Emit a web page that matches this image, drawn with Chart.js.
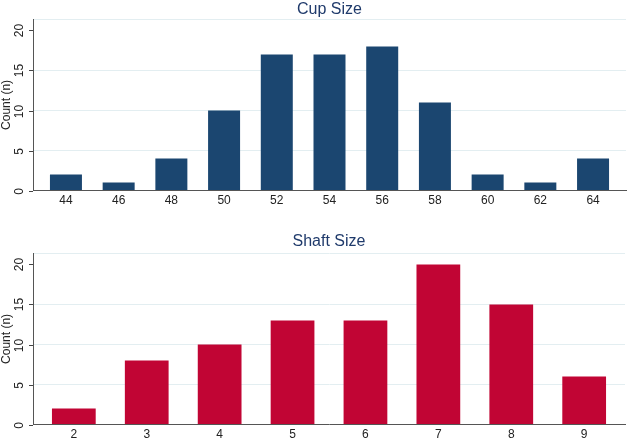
<!DOCTYPE html>
<html>
<head>
<meta charset="utf-8">
<script src="https://cdn.jsdelivr.net/npm/chart.js@4.4.1/dist/chart.umd.min.js"></script>
<style>
  body { margin: 0; background: #fff; overflow: hidden; }
  canvas { display: block; }
</style>
</head>
<body>
<canvas id="cupChart" width="628" height="220"></canvas>
<canvas id="shaftChart" width="628" height="225"></canvas>
<script>
const cupSizes = [44, 46, 48, 50, 52, 54, 56, 58, 60, 62, 64];
const cupCounts = [2, 1, 4, 10, 17, 17, 18, 11, 2, 1, 4];
const shaftSizes = [2, 3, 4, 5, 6, 7, 8, 9];
const shaftCounts = [2, 8, 10, 13, 13, 20, 15, 6];
const yTicks = [0, 5, 10, 15, 20];

const FONT = "'Liberation Sans', Arial, sans-serif";

// y labels are rotated in the original, chart.js can't rotate y ticks so draw them here
const rotatedY = {
    id: 'rotatedY',
    afterDraw(chart) {
        const ctx = chart.ctx;
        const y = chart.scales.y;
        const area = chart.chartArea;
        ctx.save();
        ctx.strokeStyle = '#444';
        ctx.lineWidth = 1;
        ctx.fillStyle = '#222';
        ctx.font = '12px ' + FONT;
        ctx.textAlign = 'center';
        ctx.textBaseline = 'middle';
        yTicks.forEach(v => {
            const py = Math.round(y.getPixelForValue(v)) + 0.5;
            ctx.beginPath();
            ctx.moveTo(area.left - 4, py);
            ctx.lineTo(area.left, py);
            ctx.stroke();
            ctx.save();
            ctx.translate(20, py);
            ctx.rotate(-Math.PI / 2);
            ctx.fillText(String(v), 0, 0);
            ctx.restore();
        });
        ctx.font = '12px ' + FONT;
        ctx.translate(7, (area.top + area.bottom) / 2);
        ctx.rotate(-Math.PI / 2);
        ctx.fillText('Count (n)', 0, 0);
        ctx.restore();
    }
};

function makeChart(id, title, sizes, counts, color, xmin, xmax, pct, pad, titlePad) {
    const ctx = document.getElementById(id).getContext('2d');
    return new Chart(ctx, {
        type: 'bar',
        data: {
            datasets: [{
                data: sizes.map((s, i) => ({ x: s, y: counts[i] })),
                backgroundColor: color,
                borderWidth: 0,
                barPercentage: 1,
                categoryPercentage: pct
            }]
        },
        options: {
            responsive: false,
            animation: false,
            devicePixelRatio: 1,
            layout: { padding: pad },
            plugins: {
                legend: { display: false },
                tooltip: { enabled: false },
                title: {
                    display: true,
                    text: title,
                    color: '#1f3a6b',
                    font: { family: FONT, size: 16, weight: 'normal' },
                    padding: titlePad
                }
            },
            scales: {
                x: {
                    type: 'linear',
                    offset: false,
                    min: xmin,
                    max: xmax,
                    afterBuildTicks: s => { s.ticks = sizes.map(v => ({ value: v })); },
                    grid: { display: false, drawTicks: false, offset: false },
                    border: { display: true, color: '#555', width: 1 },
                    ticks: {
                        color: '#222',
                        padding: 3,
                        maxRotation: 0,
                        font: { family: FONT, size: 12 },
                        callback: v => String(v)
                    }
                },
                y: {
                    min: 0,
                    max: 21.4,
                    ticks: { display: false, stepSize: 5, includeBounds: true },
                    grid: { color: '#e3eef1', drawTicks: false },
                    border: { display: true, color: '#555', width: 1 }
                }
            }
        },
        plugins: [rotatedY]
    });
}

makeChart('cupChart', 'Cup Size', cupSizes, cupCounts, '#1b4670',
    42.75, 65.25, 0.607,
    { left: 33, right: 2, top: 0, bottom: 9 }, { top: 0, bottom: 0 });

makeChart('shaftChart', 'Shaft Size', shaftSizes, shaftCounts, '#c10534',
    1.44, 9.56, 0.6,
    { left: 33, right: 3, top: 0, bottom: 0 }, { top: 12, bottom: 2 });
</script>
</body>
</html>
